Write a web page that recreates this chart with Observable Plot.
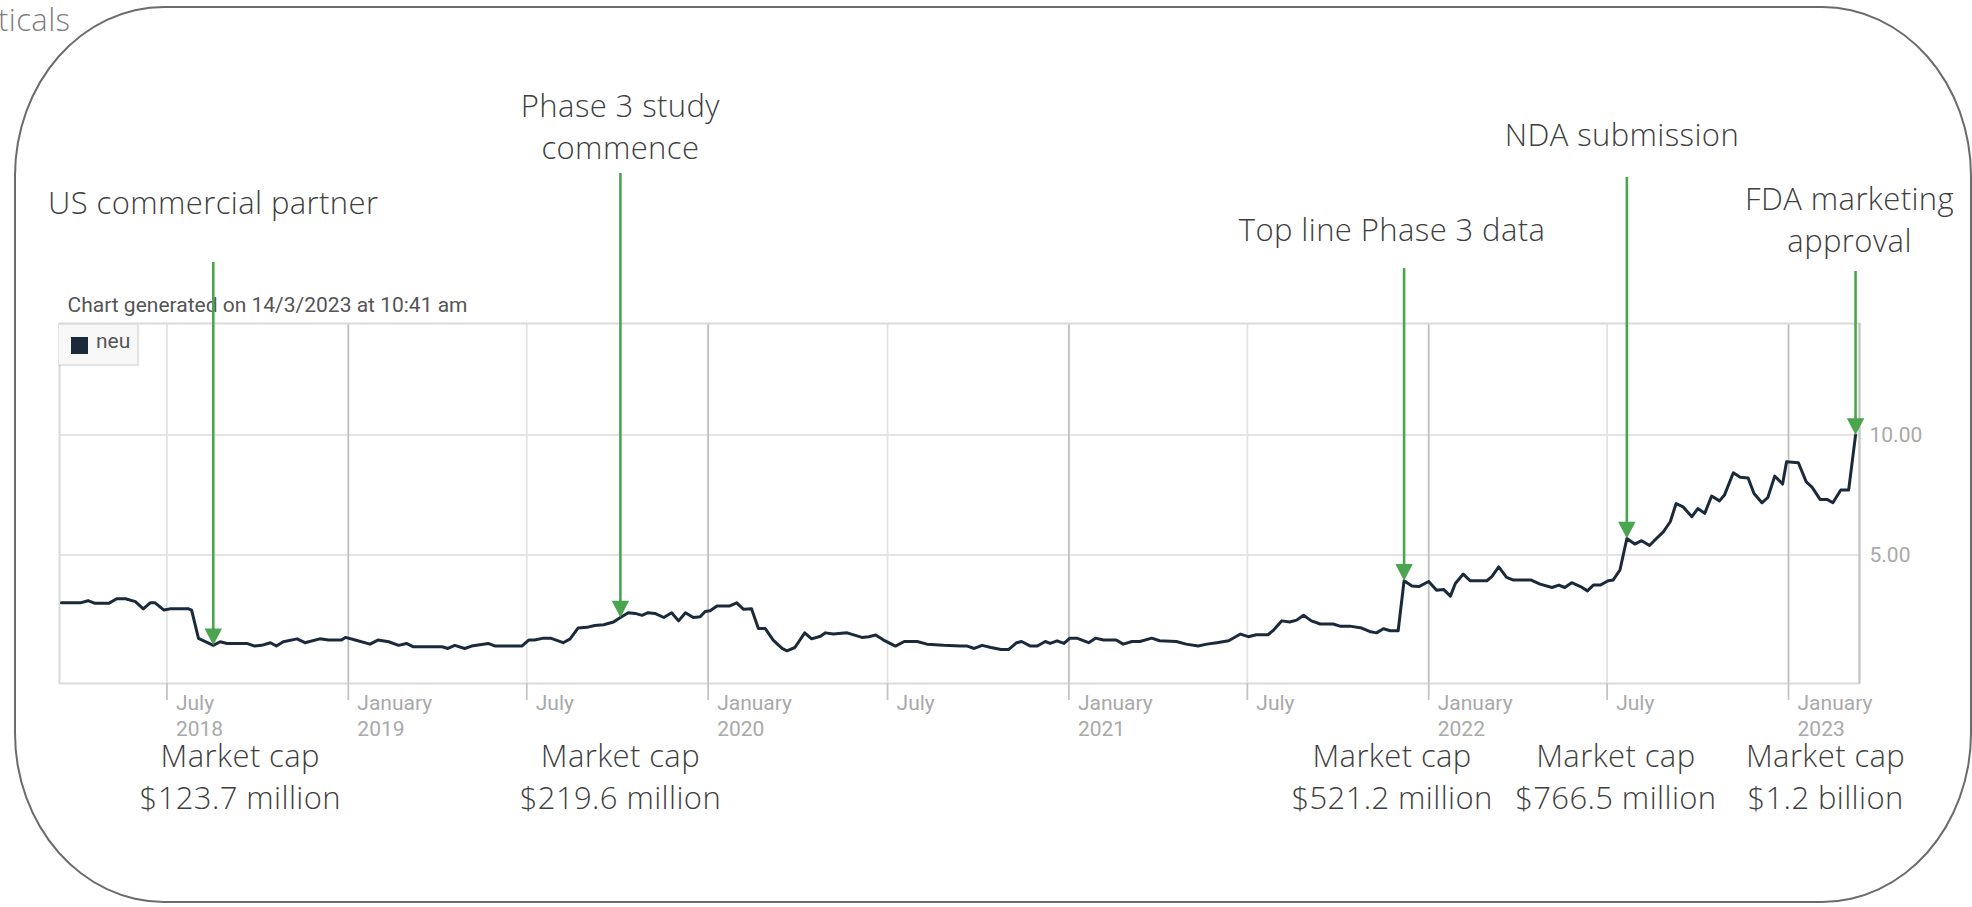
<!DOCTYPE html>
<html>
<head>
<meta charset="utf-8">
<script src="https://cdn.jsdelivr.net/npm/d3@7"></script>
<script src="https://cdn.jsdelivr.net/npm/@observablehq/plot@0.6"></script>
<style>
html, body { margin: 0; padding: 0; background: #fff; width: 1972px; height: 907px; overflow: hidden; }
#wrap { position: relative; width: 1972px; height: 907px; }
#chart { position: absolute; left: 0; top: 0; }
#chart g[font-weight="300"] text { letter-spacing: 0.4px; }
#border { position: absolute; left: 14px; top: 6px; width: 1958px; height: 897px; box-sizing: border-box;
  border: 2.5px solid #6b6b6b; border-radius: 150px / 170px; pointer-events: none; }
#cut { position: absolute; left: -2px; top: 4px; font: 300 31px/30px "Open Sans", sans-serif; color: #7f7f7f; letter-spacing: 0.4px; }
#legend { position: absolute; left: 58px; top: 324px; width: 80px; height: 41px; box-sizing: border-box;
  background: #f8f8f8; border: 1px solid #e2e2e2; box-shadow: 1px 1px 1px rgba(0,0,0,0.10); }
#legend .sw { position: absolute; left: 12px; top: 12px; width: 17px; height: 17px; background: #1b2a3a; }
#legend .lb { position: absolute; left: 37px; top: 6px; font: 400 21px/21px Roboto, sans-serif; color: #555; }
</style>
</head>
<body>
<div id="wrap">
  <div id="chart"></div>
  <div id="cut">ticals</div>
  <div id="legend"><div class="sw"></div><div class="lb"></div></div>
  <div id="border"></div>
</div>
<script>
// ---------- data ----------
const priceDates = [
"2018-03-16","2018-04-04","2018-04-12","2018-04-19","2018-05-03","2018-05-11","2018-05-20","2018-05-30",
"2018-06-07","2018-06-14","2018-06-19","2018-06-28","2018-07-04","2018-07-23","2018-07-26","2018-08-02",
"2018-08-17","2018-08-24","2018-08-31","2018-09-20","2018-09-28","2018-10-05","2018-10-14","2018-10-20",
"2018-10-27","2018-11-10","2018-11-18","2018-12-03","2018-12-12","2018-12-25","2018-12-29","2019-01-08",
"2019-01-23","2019-01-31","2019-02-11","2019-02-21","2019-03-01","2019-03-08","2019-04-06","2019-04-12",
"2019-04-19","2019-04-29","2019-05-06","2019-05-23","2019-05-30","2019-06-26","2019-07-03","2019-07-09",
"2019-07-18","2019-07-25","2019-08-07","2019-08-14","2019-08-22","2019-08-31","2019-09-08","2019-09-17",
"2019-09-27","2019-10-04","2019-10-12","2019-10-19","2019-10-26","2019-11-01","2019-11-08","2019-11-17",
"2019-11-25","2019-12-02","2019-12-09","2019-12-17","2019-12-24","2019-12-29","2020-01-03","2020-01-10",
"2020-01-23","2020-01-30","2020-02-06","2020-02-14","2020-02-21","2020-02-28","2020-03-07","2020-03-16",
"2020-03-21","2020-03-29","2020-04-08","2020-04-15","2020-04-24","2020-04-29","2020-05-07","2020-05-21",
"2020-06-05","2020-06-12","2020-06-19","2020-06-27","2020-07-09","2020-07-18","2020-07-31","2020-08-10",
"2020-08-27","2020-09-13","2020-09-20","2020-09-27","2020-10-05","2020-10-14","2020-10-24","2020-11-01",
"2020-11-09","2020-11-14","2020-11-23","2020-11-30","2020-12-08","2020-12-13","2020-12-20","2020-12-27",
"2021-01-02","2021-01-09","2021-01-21","2021-01-28","2021-02-05","2021-02-18","2021-02-25","2021-03-06",
"2021-03-14","2021-03-26","2021-04-03","2021-04-20","2021-04-30","2021-05-12","2021-05-21","2021-05-31",
"2021-06-12","2021-06-24","2021-07-02","2021-07-10","2021-07-22","2021-07-27","2021-08-05","2021-08-13",
"2021-08-20","2021-08-27","2021-09-04","2021-09-13","2021-09-26","2021-10-03","2021-10-13","2021-10-25",
"2021-11-02","2021-11-09","2021-11-16","2021-11-23","2021-12-01","2021-12-07","2021-12-15","2021-12-22",
"2022-01-01","2022-01-09","2022-01-16","2022-01-23","2022-01-28","2022-02-05","2022-02-12","2022-03-01",
"2022-03-06","2022-03-13","2022-03-21","2022-03-28","2022-04-15","2022-04-24","2022-05-06","2022-05-13",
"2022-05-19","2022-05-26","2022-06-04","2022-06-11","2022-06-17","2022-06-24","2022-07-02","2022-07-07",
"2022-07-14","2022-07-21","2022-07-29","2022-08-05","2022-08-13","2022-08-20","2022-08-27","2022-09-03",
"2022-09-09","2022-09-16","2022-09-25","2022-10-01","2022-10-08","2022-10-15","2022-10-23","2022-10-28",
"2022-11-06","2022-11-13","2022-11-21","2022-11-27","2022-12-05","2022-12-11","2022-12-18","2022-12-26",
"2022-12-30","2023-01-11","2023-01-19","2023-01-25","2023-02-02","2023-02-09","2023-02-15","2023-02-23",
"2023-03-03","2023-03-10"
];
const priceValues = [
3.01,3.01,3.10,2.99,2.99,3.18,3.18,3.06,
2.76,3.01,3.01,2.71,2.76,2.76,2.71,1.53,
1.24,1.39,1.32,1.32,1.21,1.24,1.35,1.21,
1.39,1.51,1.35,1.51,1.46,1.46,1.57,1.46,
1.29,1.46,1.39,1.24,1.32,1.18,1.18,1.11,
1.24,1.11,1.21,1.32,1.21,1.21,1.46,1.46,
1.54,1.54,1.35,1.51,1.96,1.99,2.07,2.10,
2.21,2.40,2.60,2.57,2.49,2.60,2.57,2.40,
2.60,2.26,2.60,2.40,2.43,2.65,2.68,2.88,
2.88,3.01,2.74,2.76,1.94,1.94,1.46,1.11,
1.01,1.15,1.76,1.51,1.62,1.76,1.71,1.76,
1.57,1.60,1.67,1.46,1.21,1.40,1.40,1.29,
1.24,1.21,1.21,1.11,1.24,1.15,1.07,1.07,
1.35,1.40,1.21,1.21,1.40,1.32,1.43,1.32,
1.54,1.54,1.35,1.54,1.46,1.46,1.29,1.40,
1.40,1.54,1.43,1.40,1.29,1.21,1.29,1.35,
1.43,1.71,1.60,1.68,1.68,1.85,2.26,2.21,
2.29,2.49,2.26,2.13,2.13,2.04,2.04,1.96,
1.82,1.76,1.93,1.85,1.85,3.93,3.71,3.69,
3.90,3.54,3.57,3.29,3.82,4.21,3.93,3.93,
4.10,4.51,4.07,3.96,3.96,3.79,3.65,3.75,
3.65,3.85,3.69,3.51,3.75,3.75,3.93,3.96,
4.38,5.69,5.46,5.60,5.40,5.69,5.97,6.39,
7.15,7.01,6.60,6.94,6.74,7.46,7.26,7.50,
8.43,8.24,8.21,7.57,7.18,7.40,8.29,7.96,
8.89,8.85,8.05,7.82,7.32,7.32,7.18,7.71,
7.71,10.00
];
const eventDates = ["2018-08-17", "2019-10-04", "2021-12-07", "2022-07-21", "2023-03-10"];
const eventTitles = ["US commercial partner", "Phase 3 study\ncommence", "Top line Phase 3 data", "NDA submission", "FDA marketing\napproval"];
const eventCaps = ["$123.7 million", "$219.6 million", "$521.2 million", "$766.5 million", "$1.2 billion"];
const capHeading = "Market cap";
const tickDates = ["2018-07-01","2019-01-01","2019-07-01","2020-01-01","2020-07-01","2021-01-01","2021-07-01","2022-01-01","2022-07-01","2023-01-01"];
const tickLabels = ["July\n2018","January\n2019","July","January\n2020","July","January\n2021","July","January\n2022","July","January\n2023"];
const yTicks = [5, 10];
const xRange = ["2018-03-14", "2023-03-14"];
const yRange = [-0.35, 14.65];
const seriesName = "neu";
const chartNote = "Chart generated on 14/3/2023 at 10:41 am";

// ---------- layout / style ----------
const W = 1972, H = 907, mL = 59, mR = 113, mT = 323, mB = 224;
const green = "#4aa54f";
const annFont = "'Open Sans', Lato, sans-serif";
const annSize = 31;
const titleBase = [213, 158, 240, 145, 251];   // baseline of last title line (px)
const titleDx = [0, 0, -12, -5, -6];
const arrowTop = [262, 173, 268, 177, 271];    // top end of each arrow (px)
const capDx = [27, 0, -12, -11, -30];

// ---------- build ----------
const parse = d3.utcParse("%Y-%m-%d");
const series = priceDates.map((d, i) => ({date: parse(d), value: priceValues[i]}));
const byDate = new Map(series.map(d => [+d.date, d.value]));
const events = eventDates.map((d, i) => ({
  date: parse(d), value: byDate.get(+parse(d)), title: eventTitles[i], cap: capHeading + "\n" + eventCaps[i]
}));
const ticks = tickDates.map((d, i) => ({date: parse(d), label: tickLabels[i], major: tickLabels[i].startsWith("January")}));
const xDomain = xRange.map(parse);
const yPx = d3.scaleLinear(yRange, [H - mB, mT]);

const downTriangle = {
  draw(ctx, size) {
    const k = Math.sqrt(size / Math.PI);
    const w = k * 1.25, h = k * 2.4;
    ctx.moveTo(0, 0);
    ctx.lineTo(-w, -h);
    ctx.lineTo(w, -h);
    ctx.closePath();
  }
};

document.querySelector("#legend .lb").textContent = seriesName;

const marks = [
  Plot.ruleY(yTicks, {stroke: "#e4e4e4", strokeWidth: 2}),
  Plot.ruleX(ticks.filter(d => !d.major), {x: "date", stroke: "#e3e3e3", strokeWidth: 1.8}),
  Plot.ruleX(ticks.filter(d => d.major), {x: "date", stroke: "#bfbfbf", strokeWidth: 1.8}),
  Plot.frame({stroke: "#dadada", strokeWidth: 2}),
  Plot.ruleX([xDomain[1]], {stroke: "#c4c4c4", strokeWidth: 2}),
  Plot.ruleX(ticks, {x: "date", y1: () => yRange[0], y2: () => yPx.invert(H - mB + 17), stroke: "#c4c4c4", strokeWidth: 1.8}),
  Plot.text(ticks, {x: "date", text: "label", frameAnchor: "bottom", lineAnchor: "top", textAnchor: "start",
    dx: 9, dy: 8, fontSize: 21, lineHeight: 1.25, fill: "#a9a9a9"}),
  Plot.text(yTicks, {y: d => d, text: d => d.toFixed(2), frameAnchor: "right", textAnchor: "start",
    dx: 10, fontSize: 21, fill: "#a9a9a9"}),
  Plot.text([chartNote], {frameAnchor: "top-left", textAnchor: "start", lineAnchor: "bottom",
    dx: 8, dy: -12, fontSize: 21, fill: "#555"}),
  Plot.line(series, {x: "date", y: "value", stroke: "#1b2a3a", strokeWidth: 3, strokeLinejoin: "round"}),
  Plot.ruleX(events, {x: "date", y1: (d, i) => yPx.invert(arrowTop[i]), y2: d => yPx.invert(yPx(d.value) - 12),
    stroke: green, strokeWidth: 2.6}),
  Plot.dot(events, {x: "date", y: "value", symbol: downTriangle, r: 7, fill: green, stroke: "none"}),
  ...events.map((e, i) => Plot.text([e], {x: "date", text: "title", frameAnchor: "top", lineAnchor: "bottom",
    dx: titleDx[i], dy: titleBase[i] - mT, fontSize: annSize, fontWeight: 300, lineHeight: 1.33,
    fill: "#3f3f3f", fontFamily: annFont})),
  ...events.map((e, i) => Plot.text([e], {x: "date", text: "cap", frameAnchor: "bottom", lineAnchor: "bottom",
    dx: capDx[i], dy: 808 - (H - mB), fontSize: annSize, fontWeight: 300, lineHeight: 1.33,
    fill: "#3f3f3f", fontFamily: annFont}))
];

const chart = Plot.plot({
  width: W, height: H,
  marginLeft: mL, marginRight: mR, marginTop: mT, marginBottom: mB,
  x: {type: "utc", domain: xDomain, axis: null},
  y: {domain: yRange, axis: null},
  style: {fontFamily: "Roboto, sans-serif", background: "transparent", overflow: "visible"},
  marks
});
document.getElementById("chart").appendChild(chart);
</script>
</body>
</html>
